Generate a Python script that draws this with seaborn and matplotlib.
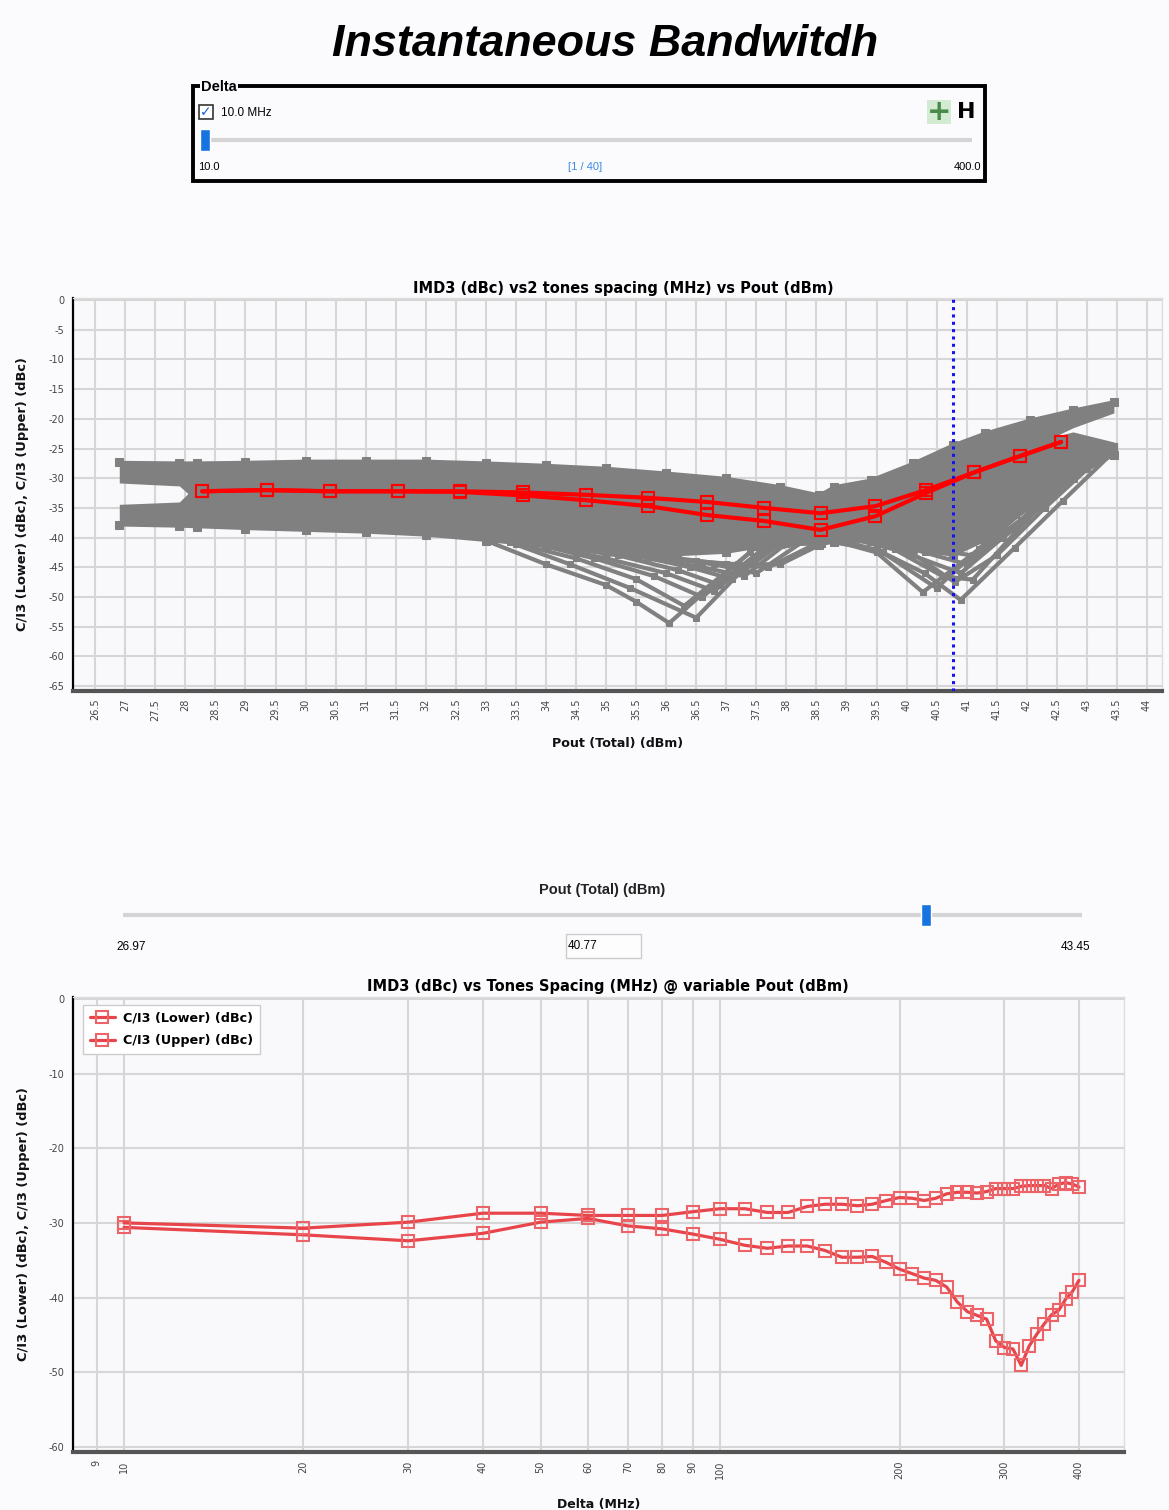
import matplotlib
matplotlib.use('Agg')
import matplotlib.pyplot as plt
from matplotlib.patches import Rectangle
from matplotlib.ticker import FuncFormatter, NullLocator
import seaborn as sns

# ---------------- data ----------------
# Top chart: Delta = 10 MHz sweep vs Pout
pout_d10 = [28.28, 29.35, 30.40, 31.53, 32.57, 33.62, 34.67, 35.70, 36.68, 37.63, 38.57, 39.48, 40.32, 41.13, 41.88, 42.57]
ci3_upper_d10 = [-32.2, -32.0, -32.2, -32.2, -32.2, -32.4, -32.8, -33.3, -34.0, -35.0, -35.9, -34.7, -32.0, -29.0, -26.3, -23.9]
ci3_lower_d10 = [-32.2, -32.0, -32.2, -32.2, -32.3, -32.9, -33.7, -34.7, -36.2, -37.2, -38.7, -36.4, -32.5, -29.0, -26.3, -23.9]

# Gray cloud (all other Delta values) - envelope of the dense band
pout_env = [26.9, 27.9, 28.2, 29.0, 30.0, 31.0, 32.0, 33.0, 34.0, 35.0, 36.0, 37.0, 37.9, 38.55, 38.8, 39.4, 40.1, 40.77, 41.3, 42.05, 42.77, 43.45]
upper_grp_top = [-27.3, -27.4, -27.4, -27.3, -27.1, -27.1, -27.1, -27.4, -27.8, -28.3, -29.1, -30.0, -31.4, -32.8, -31.4, -30.3, -27.5, -24.4, -22.4, -20.2, -18.5, -17.1]
upper_grp_bot = [-30.8, -31.3, -34.0, -34.0, -34.0, -34.0, -34.0, -34.0, -34.0, -34.0, -34.0, -35.0, -35.0, -35.5, -35.0, -34.0, -33.0, -30.0, -28.0, -25.0, -21.5, -19.0]
lower_grp_top = [-34.4, -34.0, -31.0, -31.0, -31.0, -31.0, -31.0, -31.0, -31.0, -31.5, -32.0, -33.0, -34.0, -35.0, -34.0, -32.0, -30.0, -28.0, -26.0, -24.0, -22.2, -23.9]
lower_grp_bot = [-37.9, -38.1, -38.2, -38.5, -38.8, -39.1, -39.6, -40.5, -41.5, -42.5, -43.0, -42.5, -41.0, -41.2, -40.8, -40.5, -42.0, -43.0, -40.5, -35.0, -30.0, -26.1]

# Gray dip series (first fan, around Pout 36 dBm)
fan1_pout = [
    [33.0, 34.0, 35.0, 35.5, 36.05, 37.5, 38.6],
    [33.4, 34.4, 35.4, 36.5, 37.6, 38.6],
    [33.5, 34.5, 35.5, 36.3, 37.4],
    [33.8, 34.8, 35.8, 36.6, 37.6],
    [34.0, 35.0, 36.0, 36.8, 37.7],
    [34.2, 35.2, 36.2, 36.9, 37.8],
    [34.5, 35.5, 36.4, 37.1, 37.9],
    [34.8, 35.7, 36.6, 37.3, 38.0],
    [35.0, 36.0, 36.8, 37.5, 38.3],
    [35.3, 36.2, 37.0, 37.7, 38.5],
    [35.6, 36.5, 37.2, 37.9, 38.6],
]
fan1_vals = [
    [-40.5, -44.5, -48.0, -50.8, -54.4, -41.5, -40.8],
    [-40.8, -44.5, -48.5, -53.5, -42.0, -40.5],
    [-41.0, -43.5, -47.0, -51.5, -42.5],
    [-41.0, -43.5, -46.5, -50.0, -42.0],
    [-41.5, -43.5, -46.0, -49.0, -41.5],
    [-41.5, -43.0, -45.5, -48.0, -41.0],
    [-41.5, -43.0, -45.0, -47.0, -41.0],
    [-42.0, -43.5, -45.0, -46.5, -41.0],
    [-42.0, -43.5, -44.5, -46.0, -40.5],
    [-42.5, -43.5, -44.5, -45.0, -41.0],
    [-43.0, -44.0, -44.5, -44.5, -41.0],
]
# Gray dip series (second fan, around Pout 40.8 dBm)
fan2_pout = [
    [38.6, 39.5, 40.3, 40.9, 41.8, 42.6, 43.45],
    [38.6, 39.5, 40.27, 41.2, 42.0, 42.8, 43.45],
    [38.8, 39.6, 40.5, 41.3, 42.1, 42.9, 43.45],
    [39.0, 39.8, 40.6, 41.1, 42.0, 42.8, 43.45],
    [39.2, 40.0, 40.8, 41.5, 42.3, 43.0, 43.45],
    [39.4, 40.1, 40.9, 41.6, 42.4, 43.1, 43.45],
    [39.5, 40.3, 41.0, 41.8, 42.5, 43.2, 43.45],
    [39.6, 40.4, 41.1, 41.9, 42.6, 43.3, 43.45],
]
fan2_vals = [
    [-40.5, -42.0, -46.0, -50.5, -41.7, -33.8, -25.5],
    [-40.0, -42.5, -49.2, -42.0, -35.0, -29.0, -25.0],
    [-40.0, -42.5, -48.5, -41.0, -33.0, -28.0, -24.5],
    [-40.0, -42.0, -46.5, -47.1, -37.0, -29.5, -25.5],
    [-40.0, -42.0, -47.5, -43.0, -35.0, -28.5, -24.5],
    [-40.0, -43.0, -46.0, -40.0, -33.0, -27.0, -24.5],
    [-40.0, -42.5, -44.5, -38.5, -31.5, -26.5, -25.0],
    [-40.0, -42.0, -43.0, -37.0, -30.5, -26.0, -24.5],
]

pout_selected = 40.77
pout_min, pout_max = 26.97, 43.45
delta_min, delta_max, delta_sel = 10.0, 400.0, 10.0

# Bottom chart: C/I3 vs Delta @ Pout = 40.77 dBm
delta_mhz = [10, 20, 30, 40, 50, 60, 70, 80, 90, 100,
             110, 120, 130, 140, 150, 160, 170, 180, 190, 200,
             210, 220, 230, 240, 250, 260, 270, 280, 290, 300,
             310, 320, 330, 340, 350, 360, 370, 380, 390, 400]
ci3_lower = [-30.6, -31.6, -32.4, -31.4, -29.9, -29.4, -30.4, -30.8, -31.5, -32.2,
             -33.0, -33.4, -33.1, -33.1, -33.7, -34.6, -34.6, -34.5, -35.3, -36.2,
             -36.8, -37.4, -37.7, -38.6, -40.6, -41.9, -42.4, -42.9, -45.8, -46.7,
             -46.9, -49.1, -46.5, -44.9, -43.5, -42.3, -41.7, -40.2, -39.2, -37.7]
ci3_upper = [-30.0, -30.7, -29.9, -28.7, -28.7, -29.0, -29.0, -29.0, -28.5, -28.1,
             -28.1, -28.6, -28.6, -27.8, -27.5, -27.5, -27.7, -27.5, -27.0, -26.6,
             -26.7, -27.0, -26.7, -26.1, -25.9, -25.9, -26.0, -25.8, -25.4, -25.4,
             -25.4, -25.1, -25.0, -25.0, -25.0, -25.4, -24.8, -24.6, -24.8, -25.2]

top_xticks = [26.5, 27, 27.5, 28, 28.5, 29, 29.5, 30, 30.5, 31, 31.5, 32, 32.5, 33, 33.5, 34, 34.5,
              35, 35.5, 36, 36.5, 37, 37.5, 38, 38.5, 39, 39.5, 40, 40.5, 41, 41.5, 42, 42.5, 43, 43.5, 44]
top_yticks = [0, -5, -10, -15, -20, -25, -30, -35, -40, -45, -50, -55, -60, -65]
bot_xticks = [9, 10, 20, 30, 40, 50, 60, 70, 80, 90, 100, 200, 300, 400]
bot_yticks = [0, -10, -20, -30, -40, -50, -60]

# ---------------- style ----------------
sns.set_theme(style='white')
plt.rcParams['font.family'] = ['DejaVu Sans']
plt.rcParams['axes.unicode_minus'] = False
plt.rcParams['text.color'] = 'black'
plt.rcParams['axes.labelcolor'] = 'black'

W, H = 1169, 1510
BG = '#fbfbfd'
AXBG = '#f9f9fc'
GRAY = '#808080'
GRID = '#d6d6d6'
fig = plt.figure(figsize=(W / 100, H / 100), dpi=100, facecolor=BG)


def fx(x):
    return x / W


def fy(y):
    return 1 - y / H


def fig_rect(x0, y0, x1, y1, **kw):
    r = Rectangle((fx(x0), fy(y1)), (x1 - x0) / W, (y1 - y0) / H,
                  transform=fig.transFigure, **kw)
    fig.patches.append(r)


# ---------------- header ----------------
fig.text(fx(605), fy(45), 'Instantaneous Bandwitdh', ha='center', va='center',
         fontsize=32.3, fontweight='bold', fontstyle='italic', family='Liberation Sans', color='black')

fig_rect(193, 86, 985, 181, fill=False, edgecolor='black', lw=2.8)
fig.text(fx(201), fy(87), 'Delta', ha='left', va='center', fontsize=10.5,
         fontweight='bold', family='Liberation Sans',
         bbox=dict(facecolor=BG, edgecolor='none', pad=1.0))
fig_rect(199, 105, 213, 119, facecolor='white', edgecolor='#333333', lw=1.2)
fig.text(fx(206), fy(112), '\u2713', ha='center', va='center', fontsize=10,
         color='#1a5fd0', fontweight='bold')
fig.text(fx(221), fy(113), '10.0 MHz', ha='left', va='center', fontsize=8.5,
         family='Liberation Sans')
fig_rect(927, 100, 951, 124, facecolor='#d3ead3', edgecolor='none')
fig.text(fx(939), fy(112), '+', ha='center', va='center', fontsize=21,
         color='#4a8a4a', fontweight='bold')
fig.text(fx(966), fy(112), 'H', ha='center', va='center', fontsize=16,
         color='black', fontweight='bold')

ax_s1 = fig.add_axes([fx(205), fy(152), (972 - 205) / W, 24 / H])
ax_s1.set_xlim(delta_min, delta_max)
ax_s1.set_ylim(-1, 1)
ax_s1.axis('off')
ax_s1.plot([delta_min, delta_max], [0, 0], color='#d4d4d4', lw=3, solid_capstyle='butt')
ax_s1.bar([delta_sel], [1.9], bottom=-0.95, width=4.6, color='#1673e0', clip_on=False, zorder=3)
fig.text(fx(198), fy(167), f'{delta_min:.1f}', ha='left', va='center', fontsize=8, family='Liberation Sans')
fig.text(fx(585), fy(167), '[1 / 40]', ha='center', va='center', fontsize=8, color='#3a8ae6',
         family='Liberation Sans')
fig.text(fx(981), fy(167), f'{delta_max:.1f}', ha='right', va='center', fontsize=8, family='Liberation Sans')


def style_axes(ax):
    ax.set_facecolor(AXBG)
    for s in ['top', 'right']:
        ax.spines[s].set_color('#dddddd')
        ax.spines[s].set_linewidth(1.0)
    ax.spines['left'].set_color('black')
    ax.spines['left'].set_linewidth(1.6)
    ax.spines['bottom'].set_color('#555555')
    ax.spines['bottom'].set_linewidth(3.0)
    ax.tick_params(axis='both', which='major', direction='out', length=4, width=1.2,
                   color='black', labelsize=7, labelcolor='#444444', pad=2)
    ax.grid(True, color=GRID, lw=1.5, zorder=0)
    ax.set_axisbelow(True)


# ---------------- top chart ----------------
ax1 = fig.add_axes([fx(73), fy(690.5), (1162 - 73) / W, (690.5 - 298) / H])
style_axes(ax1)
ax1.fill_between(pout_env, upper_grp_top, upper_grp_bot, color=GRAY, lw=0, zorder=2)
ax1.fill_between(pout_env, lower_grp_top, lower_grp_bot, color=GRAY, lw=0, zorder=2)
for yv in [upper_grp_top, lower_grp_bot]:
    sns.lineplot(x=pout_env, y=yv, ax=ax1, color=GRAY, lw=2, marker='s', markersize=6,
                 markeredgecolor=GRAY, sort=False, estimator=None, zorder=2)
for xs, ys in zip(fan1_pout + fan2_pout, fan1_vals + fan2_vals):
    sns.lineplot(x=xs, y=ys, ax=ax1, color=GRAY, lw=3, marker='s', markersize=5,
                 markeredgecolor=GRAY, sort=False, estimator=None, zorder=2)
for yv in [ci3_upper_d10, ci3_lower_d10]:
    sns.lineplot(x=pout_d10, y=yv, ax=ax1, color='#ff0000', lw=3, marker='s', markersize=9,
                 markerfacecolor='none', markeredgecolor='#ff0000', markeredgewidth=1.5,
                 sort=False, estimator=None, zorder=5)
ax1.axvline(pout_selected, color='#1414f0', ls=(0, (1, 1.4)), lw=2.2, zorder=6)
ax1.set_xlim(26.13, 44.25)
ax1.set_ylim(-65.75, 0.35)
ax1.set_xticks(top_xticks)
ax1.xaxis.set_major_formatter(FuncFormatter(lambda v, p: f'{v:g}'))
ax1.set_yticks(top_yticks)
ax1.tick_params(axis='x', labelrotation=90)
ax1.set_xlabel('Pout (Total) (dBm)', fontsize=9.1, fontweight='bold', color='#111111')
ax1.set_ylabel('C/I3 (Lower) (dBc), C/I3 (Upper) (dBc)', fontsize=9.4, fontweight='bold', color='#111111')
ax1.xaxis.set_label_coords(0.5, -0.118)
ax1.yaxis.set_label_coords(-0.04, 0.5)
ax1.text(0.505, 1.025, 'IMD3 (dBc) vs2 tones spacing (MHz) vs Pout (dBm)', transform=ax1.transAxes,
         ha='center', va='center', fontsize=10.5, fontweight='bold', color='black')

# ---------------- Pout slider ----------------
fig.text(fx(602), fy(890), 'Pout (Total) (dBm)', ha='center', va='center', fontsize=10.5,
         family='Liberation Sans', fontweight='bold', color='#222222')
ax_s2 = fig.add_axes([fx(123), fy(927), (1082 - 123) / W, 24 / H])
ax_s2.set_xlim(pout_min, pout_max)
ax_s2.set_ylim(-1, 1)
ax_s2.axis('off')
ax_s2.plot([pout_min, pout_max], [0, 0], color='#d4d4d4', lw=3, solid_capstyle='butt')
ax_s2.bar([pout_selected], [1.9], bottom=-0.95, width=0.16, color='#1673e0', clip_on=False, zorder=3)
fig.text(fx(116), fy(947), f'{pout_min:.2f}', ha='left', va='center', fontsize=8.5, family='Liberation Sans')
fig.text(fx(1090), fy(947), f'{pout_max:.2f}', ha='right', va='center', fontsize=8.5, family='Liberation Sans')
fig_rect(566, 934, 641, 958, facecolor='#fdfdfd', edgecolor='#cccccc', lw=1)
fig.text(fx(568), fy(946), f'{pout_selected:.2f}', ha='left', va='center', fontsize=8.5, family='Liberation Sans')

# ---------------- bottom chart ----------------
ax2 = fig.add_axes([fx(73), fy(1452), (1124 - 73) / W, (1452 - 997) / H])
style_axes(ax2)
RED2 = '#e8454b'
sns.lineplot(x=delta_mhz, y=ci3_lower, ax=ax2, color=RED2, lw=2.3, marker='s', markersize=8.5,
             markerfacecolor='none', markeredgecolor='#ec6468', markeredgewidth=1.5,
             sort=False, estimator=None, label='C/I3 (Lower) (dBc)', zorder=4)
sns.lineplot(x=delta_mhz, y=ci3_upper, ax=ax2, color=RED2, lw=2.3, marker='s', markersize=8.5,
             markerfacecolor='none', markeredgecolor='#ec6468', markeredgewidth=1.5,
             sort=False, estimator=None, label='C/I3 (Upper) (dBc)', zorder=4)
ax2.set_xscale('log')
ax2.set_xlim(8.21, 476)
ax2.set_ylim(-60.7, 0.27)
ax2.set_xticks(bot_xticks)
ax2.xaxis.set_minor_locator(NullLocator())
ax2.xaxis.set_major_formatter(FuncFormatter(lambda v, p: f'{v:g}'))
ax2.set_yticks(bot_yticks)
ax2.tick_params(axis='x', labelrotation=90)
ax2.set_xlabel('Delta (MHz)', fontsize=9, fontweight='bold', color='#111111')
ax2.set_ylabel('C/I3 (Lower) (dBc), C/I3 (Upper) (dBc)', fontsize=9.4, fontweight='bold', color='#111111')
ax2.xaxis.set_label_coords(0.5, -0.101)
ax2.yaxis.set_label_coords(-0.041, 0.5)
ax2.text(0.509, 1.022, 'IMD3 (dBc) vs Tones Spacing (MHz) @ variable Pout (dBm)', transform=ax2.transAxes,
         ha='center', va='center', fontsize=10.5, fontweight='bold', color='black')
leg = ax2.legend(loc='upper left', bbox_to_anchor=(0.003, 0.997), frameon=True, fancybox=False,
                 edgecolor='#cccccc', facecolor='white', framealpha=1,
                 prop={'weight': 'bold', 'size': 9.2}, handlelength=2.0, borderpad=0.55,
                 labelspacing=0.75, handletextpad=0.6)
leg.get_frame().set_linewidth(1.0)

fig.savefig('out.png', dpi=100, facecolor=BG)
